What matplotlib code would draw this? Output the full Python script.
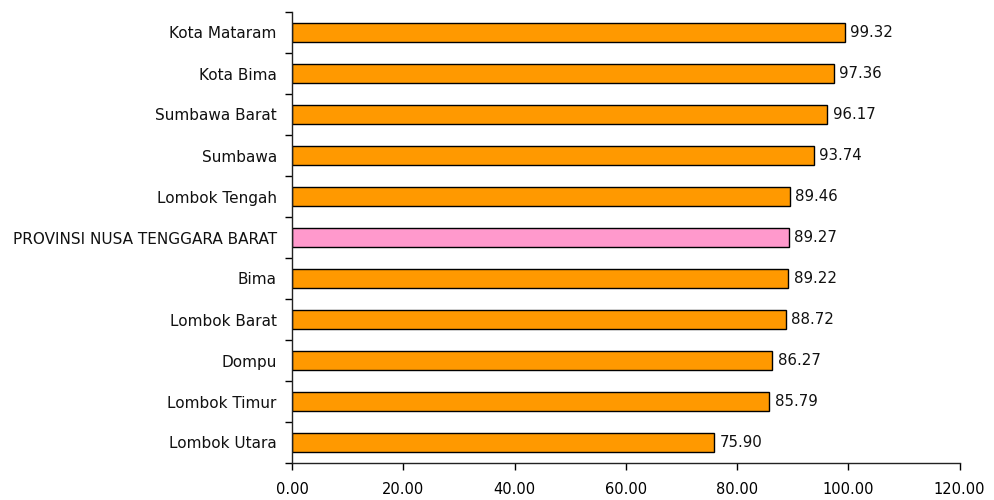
import matplotlib.pyplot as plt
import numpy as np

# data (bottom to top)
wilayah = ["Lombok Utara", "Lombok Timur", "Dompu", "Lombok Barat", "Bima",
           "PROVINSI NUSA TENGGARA BARAT", "Lombok Tengah", "Sumbawa",
           "Sumbawa Barat", "Kota Bima", "Kota Mataram"]
nilai = [75.90, 85.79, 86.27, 88.72, 89.22, 89.27, 89.46, 93.74, 96.17, 97.36, 99.32]
warna = ["#FF9900"] * len(wilayah)
warna[wilayah.index("PROVINSI NUSA TENGGARA BARAT")] = "#FF99CC"
xticks = [0, 20, 40, 60, 80, 100, 120]

plt.rcParams['font.family'] = ['DejaVu Sans']

fig = plt.figure(figsize=(9.95, 5.0), dpi=100)
ax = fig.add_axes([0.2935, 0.074, 0.671, 0.902])

y = np.arange(len(wilayah))
ax.barh(y, nilai, height=0.47, color=warna, edgecolor='black', linewidth=1.0)

for yi, v in zip(y, nilai):
    ax.annotate(f"{v:.2f}", (v, yi), xytext=(4, 0), textcoords='offset points',
                va='center', ha='left', fontsize=10.8, color='#111111')

ax.set_xlim(0, 120)
ax.set_ylim(-0.5, len(wilayah) - 0.5)
ax.set_xticks(xticks)
ax.set_xticklabels([f"{t:.2f}" for t in xticks], fontsize=10.5)
ax.set_yticks(y)
ax.set_yticklabels(wilayah, fontsize=11, color='#111111')
ax.set_yticks(np.arange(len(wilayah) + 1) - 0.5, minor=True)
ax.tick_params(axis='y', which='major', length=0, pad=11)
ax.tick_params(axis='y', which='minor', length=5, width=1, direction='out')
ax.tick_params(axis='x', length=5, width=1, direction='out', pad=9)

for s in ['top', 'right']:
    ax.spines[s].set_visible(False)
for s in ['left', 'bottom']:
    ax.spines[s].set_linewidth(1.0)
    ax.spines[s].set_color('#222222')

fig.savefig("out.png", dpi=100)
